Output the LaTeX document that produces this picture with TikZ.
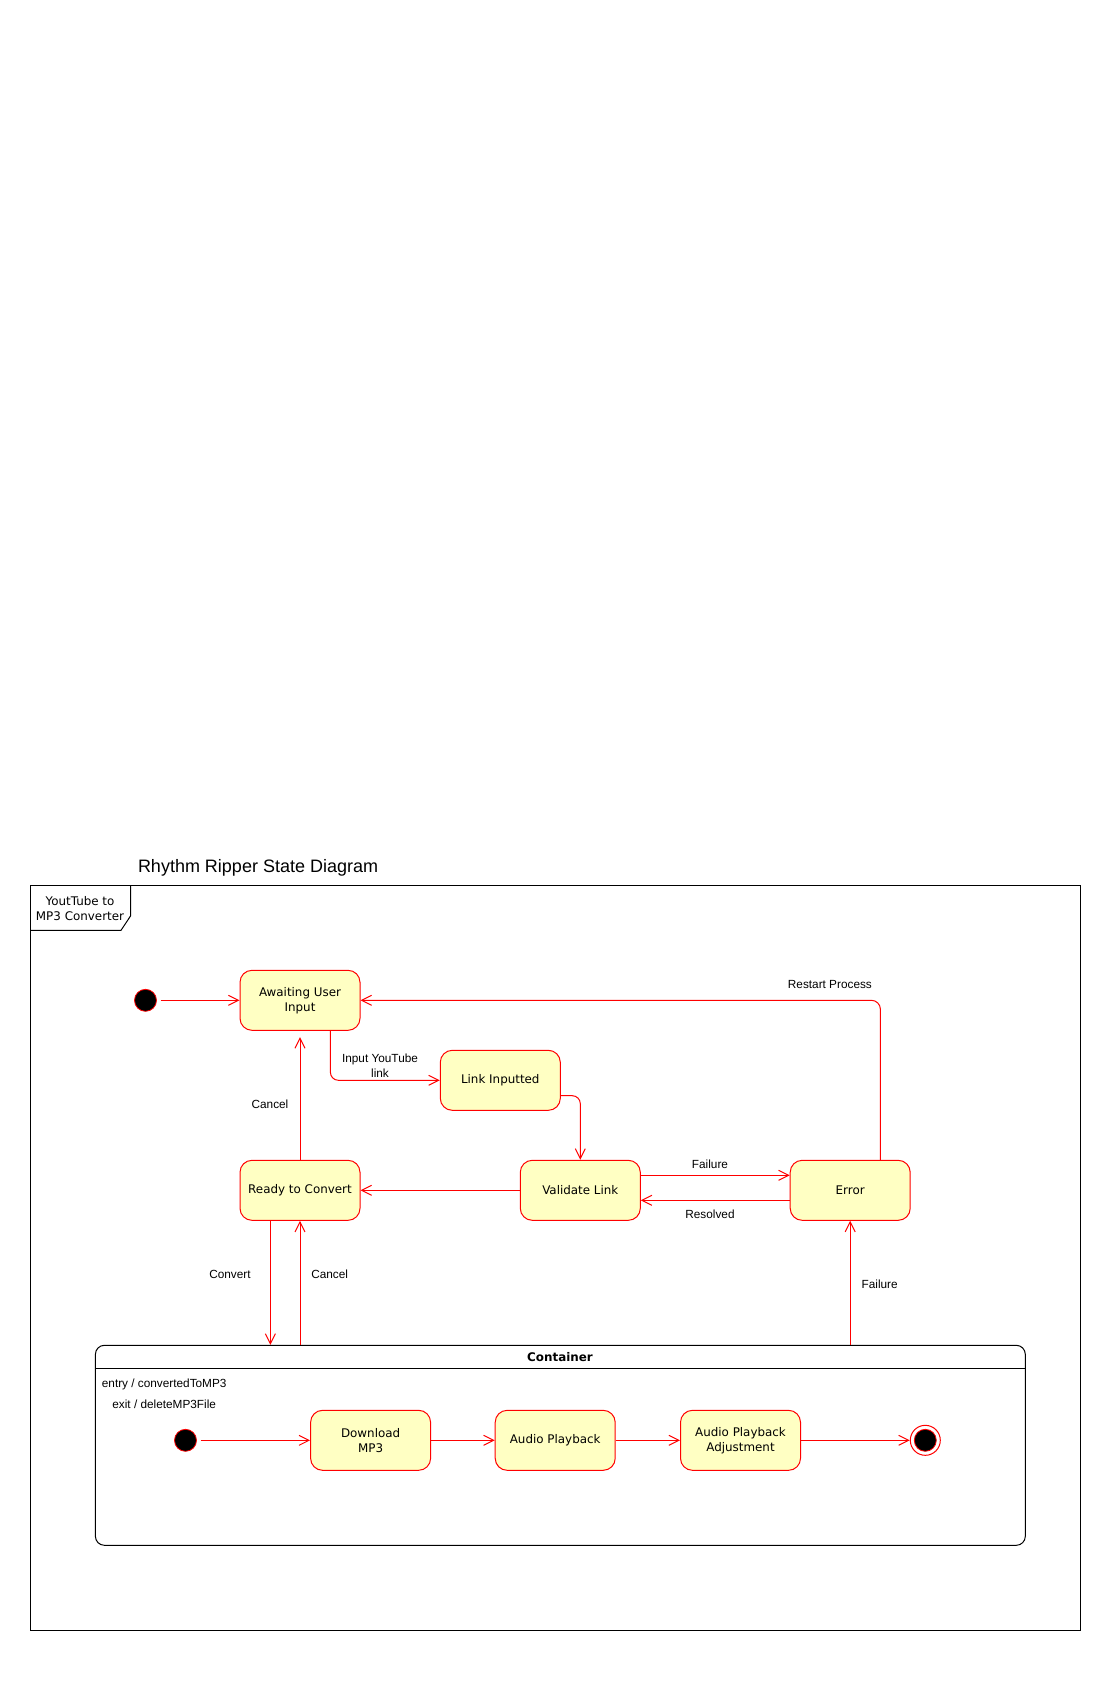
\documentclass[tikz,border=0pt]{standalone}
\usepackage{fontspec}
\setmainfont{Liberation Sans}
\newfontfamily\dejavu{DejaVu Sans}
\usetikzlibrary{arrows.meta}
\definecolor{statefill}{HTML}{FFFFC3}
\begin{document}
\begin{tikzpicture}[x=1pt,y=-1pt,
  statebox/.style={draw=red, fill=statefill, rounded corners=12pt, minimum width=120pt, minimum height=60pt, inner sep=0pt, align=center, line width=1pt, font=\dejavu\fontsize{11.9}{15}\selectfont},
  tr/.style={draw=red, line width=1pt, -{Straight Barb[length=10pt,width=10pt,line width=1pt]}},
  lbl/.style={inner sep=0pt, align=center, font=\fontsize{11.8}{14.7}\selectfont},
  initnode/.style={circle, fill=black, draw=red, line width=0.8pt, minimum size=22pt, inner sep=0pt},
  frameline/.style={draw=black, line width=1pt}
]
\useasboundingbox (0,0) rectangle (1100,1700);
\fill[white] (0,0) rectangle (1100,1700);

% title
\node[anchor=base west, inner sep=0pt, font=\fontsize{18}{22}\selectfont] (title) at (137.8,872.3) {Rhythm Ripper State Diagram};

% outer frame
\draw[frameline] (30.5,885.3) rectangle (1080.3,1630.3);
\draw[frameline] (30.5,930.3) -- (121,930.3) -- (130.5,916) -- (130.5,885.3);
\node[inner sep=0pt, align=center, font=\dejavu\fontsize{11.9}{15}\selectfont] (tab) at (80,908.2) {YoutTube to\\MP3 Converter};

% states
\node[initnode] (i0) at (145.5,1000.3) {};
\node[statebox] (aw) at (300,1000.3) {Awaiting User\\Input};
\node[statebox] (li) at (500.3,1080.3) {Link Inputted};
\node[statebox] (rc) at (300,1190.3) {Ready to Convert};
\node[statebox] (vl) at (580.3,1190.3) {Validate Link};
\node[statebox] (err) at (850.2,1190.3) {Error};

% container
\node[draw=black, line width=1pt, rounded corners=9pt, minimum width=929.9pt, minimum height=200pt, inner sep=0pt] (cont) at (560.35,1445.3) {};
\draw[black, line width=1pt] (95.4,1368.5) coordinate (sepl) -- (1025.3,1368.5) coordinate (sepr);
\node[inner sep=0pt, font=\dejavu\bfseries\fontsize{11.9}{15}\selectfont] (conttitle) at (560,1356.7) {Container};
\node[lbl, anchor=west] (entry) at (101.7,1384.7) {entry / convertedToMP3};
\node[lbl, anchor=west] (exit) at (112.2,1404.7) {exit / deleteMP3File};

\node[initnode] (i1) at (185.5,1440.3) {};
\node[statebox] (dl) at (370.6,1440.3) {Download\\MP3};
\node[statebox] (ap) at (555.2,1440.3) {Audio Playback};
\node[statebox] (adj) at (740.5,1440.3) {Audio Playback\\Adjustment};
\node[circle, draw=red, line width=1pt, minimum size=30pt, inner sep=0pt] (fin) at (925.3,1440.3) {};
\node[initnode] (finin) at (925.3,1440.3) {};

% transitions
\draw[tr, shorten <=3.6pt] (i0) -- (aw);
\draw[tr, rounded corners=8pt] ([xshift=30.4pt]aw.south) |- (li.west);
\draw[tr, rounded corners=8pt] ([yshift=-15.4pt]li.east) -| (vl.north);
\draw[tr] (vl.west) -- (rc.east);
\draw[tr] ([yshift=15pt]vl.east) -- ([yshift=15pt]err.west);
\draw[tr] ([yshift=-10pt]err.west) -- ([yshift=-10pt]vl.east);
\draw[tr, rounded corners=9pt] ([xshift=30.2pt]err.north) |- (aw.east);
\draw[tr] (rc.north) -- ([yshift=-6.4pt]aw.south);
\draw[tr] ([xshift=-29.6pt]rc.south) -- ([xshift=-29.6pt]rc.south |- cont.north);
\draw[tr] (rc.south |- cont.north) -- (rc.south);
\draw[tr] (err.south |- cont.north) -- (err.south);

\draw[tr, shorten <=3.6pt] (i1) -- (dl);
\draw[tr] (dl) -- (ap);
\draw[tr] (ap) -- (adj);
\draw[tr] (adj) -- (fin);

% labels
\node[lbl] (lInput) at (380,1065.4) {Input YouTube\\link};
\node[lbl] (lCancel1) at (270,1104.7) {Cancel};
\node[lbl] (lRestart) at (829.9,984.7) {Restart Process};
\node[lbl] (lFail1) at (710,1164.7) {Failure};
\node[lbl] (lResolved) at (710,1214.7) {Resolved};
\node[lbl] (lConvert) at (230,1274.7) {Convert};
\node[lbl] (lCancel2) at (329.7,1274.7) {Cancel};
\node[lbl] (lFail2) at (879.7,1284.7) {Failure};
\end{tikzpicture}
\end{document}
